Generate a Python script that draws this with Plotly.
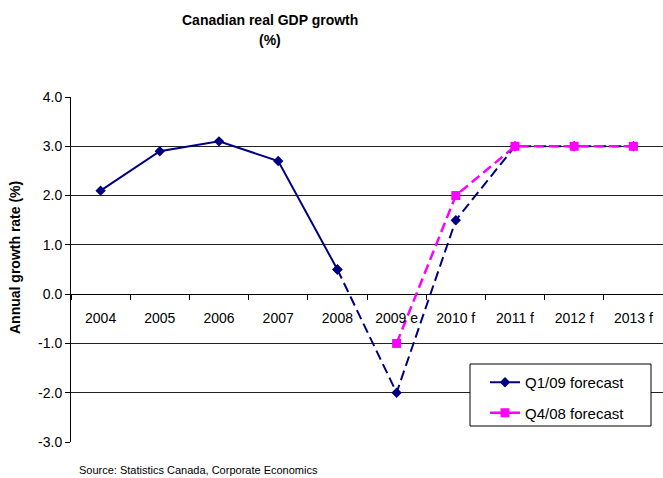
import plotly.graph_objects as go

# Canadian real GDP growth, actuals to 2008 then estimate/forecasts
years = ["2004", "2005", "2006", "2007", "2008",
         "2009 e", "2010 f", "2011 f", "2012 f", "2013 f"]
q1_09 = [2.1, 2.9, 3.1, 2.7, 0.5, -2.0, 1.5, 3.0, 3.0, 3.0]
q4_08 = [None, None, None, None, None, -1.0, 2.0, 3.0, 3.0, 3.0]
last_actual = 4  # index of 2008, where the forecast segment begins

y_ticks = [-3, -2, -1, 0, 1, 2, 3, 4]
y_tick_labels = ["-3.0", "-2.0", "-1.0", "0.0", "1.0", "2.0", "3.0", "4.0"]

NAVY = "#000080"
MAGENTA = "#FF00FF"
FONT = "Liberation Sans, Arial, sans-serif"
DASH = "10px,5px"

W, H = 663, 478
L, R, T, B = 71, 0, 97, 36
pw, ph = W - L - R, H - T - B
ymin, ymax = -3, 4


def px_x(p):
    return (p - L) / pw


def px_y(p):
    return (H - B - p) / ph


fig = go.Figure()

# Q1/09 forecast: solid through actuals, dashed from 2008 on
fig.add_trace(go.Scatter(
    x=years[:last_actual + 1], y=q1_09[:last_actual + 1],
    mode="lines+markers", name="Q1/09 forecast", legendgroup="a",
    line=dict(color=NAVY, width=2),
    marker=dict(symbol="diamond", size=8, color=NAVY),
))
fig.add_trace(go.Scatter(
    x=years[last_actual:], y=q1_09[last_actual:],
    mode="lines+markers", showlegend=False, legendgroup="a",
    line=dict(color=NAVY, width=2, dash=DASH),
    marker=dict(symbol="diamond", size=8, color=NAVY),
))
# Q4/08 forecast
fig.add_trace(go.Scatter(
    x=years, y=q4_08, mode="lines+markers", showlegend=False,
    legendgroup="b", connectgaps=False,
    line=dict(color=MAGENTA, width=2.5, dash=DASH),
    marker=dict(symbol="square", size=9, color=MAGENTA),
))
# legend entry for Q4/08 drawn with a solid sample line
fig.add_trace(go.Scatter(
    x=[None], y=[None], mode="lines+markers", name="Q4/08 forecast",
    legendgroup="b",
    line=dict(color=MAGENTA, width=2.5),
    marker=dict(symbol="square", size=9, color=MAGENTA),
))

fig.update_layout(
    width=W, height=H,
    margin=dict(l=L, r=R, t=T, b=B),
    paper_bgcolor="white", plot_bgcolor="white",
    font=dict(family=FONT, size=14, color="black"),
    showlegend=True,
    legend=dict(
        x=px_x(485), y=px_y(366), xanchor="left", yanchor="top",
        bgcolor="rgba(0,0,0,0)", borderwidth=0,
        font=dict(size=15), tracegroupgap=8,
    ),
    xaxis=dict(
        type="category", anchor="free", position=(0 - ymin) / (ymax - ymin),
        showgrid=False, showline=False, zeroline=False,
        ticks="outside", tickson="boundaries", ticklen=5,
        tickcolor="black", tickfont=dict(size=14), ticklabelstandoff=14,
        range=[-0.5, len(years) - 0.5],
    ),
    yaxis=dict(
        range=[ymin, ymax], tickmode="array",
        tickvals=y_ticks, ticktext=y_tick_labels,
        showgrid=True, gridcolor="#222222", gridwidth=1,
        zeroline=True, zerolinecolor="black", zerolinewidth=1,
        showline=True, linecolor="black", linewidth=1,
        ticks="outside", ticklen=5, tickcolor="black",
        tickfont=dict(size=14),
    ),
    shapes=[dict(
        type="rect", xref="paper", yref="paper",
        x0=px_x(470), x1=px_x(651), y0=px_y(426), y1=px_y(364),
        line=dict(color="black", width=1), fillcolor="white", layer="above",
    )],
    annotations=[
        dict(text="<b>Canadian real GDP growth</b>", xref="paper", yref="paper",
             x=px_x(270), y=px_y(20), showarrow=False,
             xanchor="center", yanchor="middle", font=dict(size=14)),
        dict(text="<b>(%)</b>", xref="paper", yref="paper",
             x=px_x(270), y=px_y(40), showarrow=False,
             xanchor="center", yanchor="middle", font=dict(size=14)),
        dict(text="<b>Annual growth rate (%)</b>", xref="paper", yref="paper",
             x=px_x(15), y=px_y(258), textangle=-90, showarrow=False,
             xanchor="center", yanchor="middle", font=dict(size=14)),
        dict(text="Source: Statistics Canada, Corporate Economics",
             xref="paper", yref="paper", x=px_x(77), y=px_y(470),
             showarrow=False, xanchor="left", yanchor="middle",
             font=dict(size=11)),
    ],
)

fig.write_html("out.html")
